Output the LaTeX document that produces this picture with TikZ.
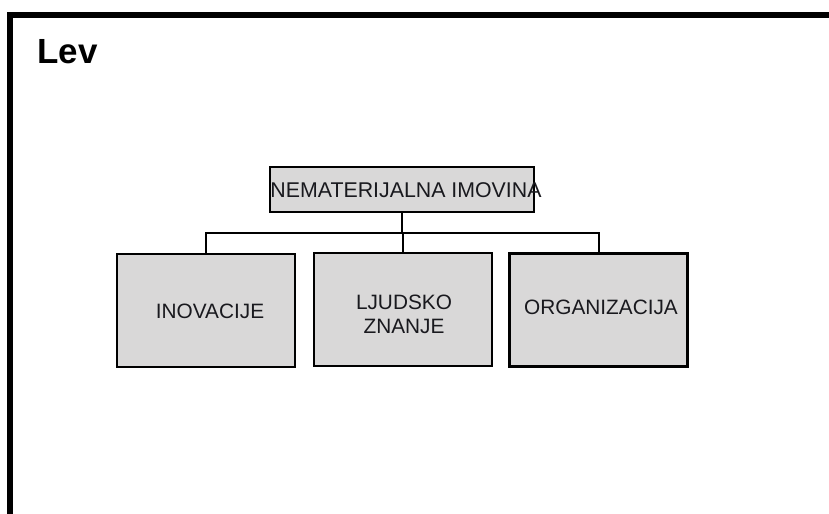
\documentclass[tikz,border=0pt]{standalone}
\usepackage{fontspec}
\setmainfont{Liberation Sans}
\definecolor{boxgray}{RGB}{217,216,216}
\definecolor{inkc}{RGB}{25,25,30}
\begin{document}
\begin{tikzpicture}[x=0.75pt,y=-0.75pt,
  box/.style={draw=black,line width=1.6pt,fill=boxgray,inner sep=0pt,
    minimum width=133.5pt,minimum height=84.75pt},
  topbox/.style={draw=black,line width=1.6pt,fill=boxgray,inner sep=0pt,
    minimum width=198pt,minimum height=33.75pt},
  lab/.style={text=inkc,font=\fontsize{15.6pt}{18pt}\selectfont,inner sep=0pt,align=center},
  conn/.style={draw=black,line width=1.5pt}]
\useasboundingbox (0,0) rectangle (829,514);
\fill[white] (0,0) rectangle (829,514);
% outer frame
\draw[line width=4.3pt,line cap=rect] (10,560) -- (10,15) -- (880,15);
\node[anchor=base west,inner sep=0pt,font=\bfseries\fontsize{26.2pt}{30pt}\selectfont] (title) at (37,63) {Lev};
% boxes
\node[topbox] (top) at (402,189.5) {};
\node[lab,font=\fontsize{16pt}{18pt}\selectfont] (toptext) at (406,190) {NEMATERIJALNA IMOVINA};
\node[box] (b1) at (206,310.5) {};
\node[lab] (b1t) at (210,311) {INOVACIJE};
\node[box] (b2) at (403,309.5) {};
\node[lab,font=\fontsize{15.6pt}{18pt}\selectfont] (b2t) at (404,314) {LJUDSKO\\ZNANJE};
\node[box] (b3) at (598.5,310) {};
\node[lab] (b3t) at (601,307.5) {ORGANIZACIJA};
% connectors
\coordinate (j) at (402,233);
\draw[conn] (top.south) -- (j);
\draw[conn] (b1.north) |- (j);
\draw[conn] (b3.north) |- (j);
\draw[conn] (b2.north) -- (b2.north |- j);
\end{tikzpicture}
\end{document}
